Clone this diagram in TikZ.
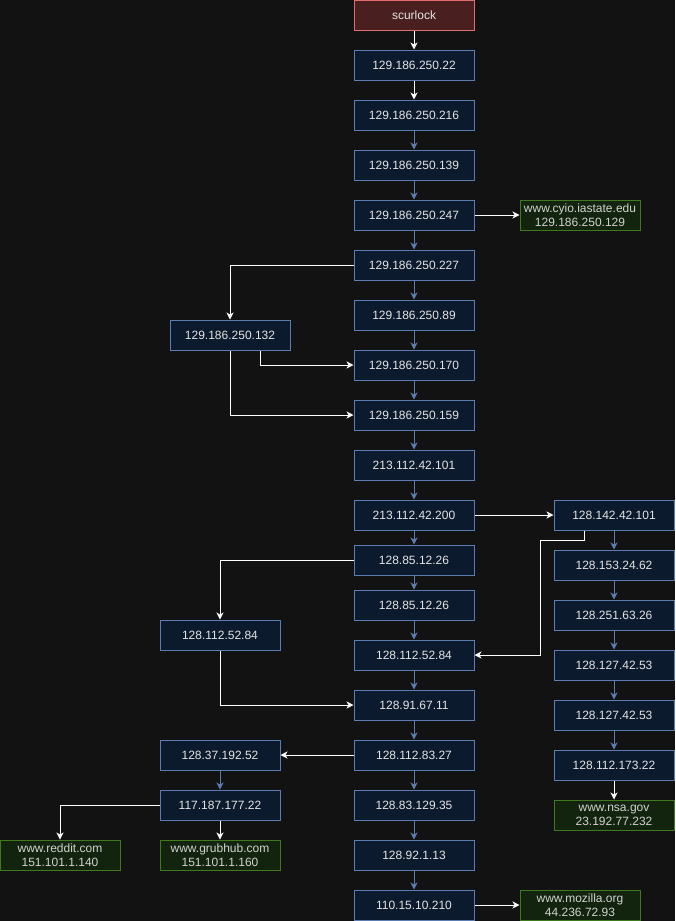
\documentclass[tikz,border=0pt]{standalone}
\usepackage{fontspec}
\setmainfont{Liberation Sans}
\usetikzlibrary{arrows.meta}

\definecolor{bg}{HTML}{121212}
\definecolor{hopfill}{HTML}{0C1A2D}
\definecolor{hopline}{HTML}{5B7DB1}
\definecolor{srcfill}{HTML}{4A1F1F}
\definecolor{srcline}{HTML}{E06E6E}
\definecolor{dstfill}{HTML}{12230E}
\definecolor{dstline}{HTML}{3F7A1E}
\definecolor{txt}{HTML}{E4E4E4}
\definecolor{dsttxt}{HTML}{D2D2D2}

\tikzset{
  box/.style={rectangle, minimum width=120pt, minimum height=30pt, inner sep=0pt,
    line width=1pt, font=\fontsize{12}{14}\selectfont, align=center},
  hop/.style={box, draw=hopline, fill=hopfill, text=txt},
  src/.style={box, draw=srcline, fill=srcfill, text=txt},
  dst/.style={box, draw=dstline, fill=dstfill, text=dsttxt},
  tip/.style={-{Stealth[length=7pt,width=7pt,inset=2pt]}},
  link/.style={tip, draw=hopline, line width=1pt},
  route/.style={tip, draw=white, line width=1pt},
}

\begin{document}
\begin{tikzpicture}[x=1pt,y=-1pt]
\fill[bg] (0,0) rectangle (675,921);
\useasboundingbox (0,0) rectangle (675,921);

% main trace column
\node[src] (s)    at (414,15)  {scurlock};
\node[hop] (a22)  at (414,65)  {129.186.250.22};
\node[hop] (a216) at (414,115) {129.186.250.216};
\node[hop] (a139) at (414,165) {129.186.250.139};
\node[hop] (a247) at (414,215) {129.186.250.247};
\node[hop] (a227) at (414,265) {129.186.250.227};
\node[hop] (a89)  at (414,315) {129.186.250.89};
\node[hop] (a170) at (414,365) {129.186.250.170};
\node[hop] (a159) at (414,415) {129.186.250.159};
\node[hop] (b101) at (414,465) {213.112.42.101};
\node[hop] (b200) at (414,515) {213.112.42.200};
\node[hop] (c26a) at (414,560) {128.85.12.26};
\node[hop] (c26b) at (414,605) {128.85.12.26};
\node[hop] (c84)  at (414,655) {128.112.52.84};
\node[hop] (c11)  at (414,705) {128.91.67.11};
\node[hop] (c27)  at (414,755) {128.112.83.27};
\node[hop] (c35)  at (414,805) {128.83.129.35};
\node[hop] (c13)  at (414,855) {128.92.1.13};
\node[hop] (c210) at (414,905) {110.15.10.210};

% right branch
\node[hop] (r101) at (614,515) {128.142.42.101};
\node[hop] (r62)  at (614,565) {128.153.24.62};
\node[hop] (r26)  at (614,615) {128.251.63.26};
\node[hop] (r53a) at (614,665) {128.127.42.53};
\node[hop] (r53b) at (614,715) {128.127.42.53};
\node[hop] (r22)  at (614,765) {128.112.173.22};
\node[dst] (nsa)  at (614,815) {www.nsa.gov\\23.192.77.232};

% left branches
\node[hop] (l132) at (230,335) {129.186.250.132};
\node[hop] (l84)  at (220,635) {128.112.52.84};
\node[hop] (l52)  at (220,755) {128.37.192.52};
\node[hop] (l22)  at (220,805) {117.187.177.22};

% destinations
\node[dst] (cyio)    at (580,215) {www.cyio.iastate.edu\\129.186.250.129};
\node[dst] (mozilla) at (580,905) {www.mozilla.org\\44.236.72.93};
\node[dst] (reddit)  at (60,855)  {www.reddit.com\\151.101.1.140};
\node[dst] (grubhub) at (220,855) {www.grubhub.com\\151.101.1.160};

% main column links
\draw[route] (s) -- (a22);
\draw[route] (a22) -- (a216);
\draw[link] (a216) -- (a139);
\draw[link] (a139) -- (a247);
\draw[link] (a247) -- (a227);
\draw[link] (a227) -- (a89);
\draw[link] (a89) -- (a170);
\draw[link] (a170) -- (a159);
\draw[link] (a159) -- (b101);
\draw[link] (b101) -- (b200);
\draw[link] (b200) -- (c26a);
\draw[link] (c26a) -- (c26b);
\draw[link] (c26b) -- (c84);
\draw[link] (c84) -- (c11);
\draw[link] (c11) -- (c27);
\draw[link] (c27) -- (c35);
\draw[link] (c35) -- (c13);
\draw[link] (c13) -- (c210);

% right column links
\draw[link] (r101) -- (r62);
\draw[link] (r62) -- (r26);
\draw[link] (r26) -- (r53a);
\draw[link] (r53a) -- (r53b);
\draw[link] (r53b) -- (r22);
\draw[route] (r22) -- (nsa);

% side routes
\draw[route] (a247) -- (cyio);
\draw[route] (a227.west) -| (l132.north);
\draw[route] ([xshift=30pt]l132.south) |- (a170.west);
\draw[route] (l132.south) |- (a159.west);
\draw[route] (b200) -- (r101);
\coordinate (rjog) at (540,540);
\draw[route] ([xshift=-30pt]r101.south) |- (rjog) |- (c84.east);
\draw[route] (c26a.west) -| (l84.north);
\draw[route] (l84.south) |- (c11.west);
\draw[route] (c27) -- (l52);
\draw[link] (l52) -- (l22);
\draw[route] (l22.west) -| (reddit.north);
\draw[route] (l22) -- (grubhub);
\draw[route] (c210) -- (mozilla);
\end{tikzpicture}
\end{document}
